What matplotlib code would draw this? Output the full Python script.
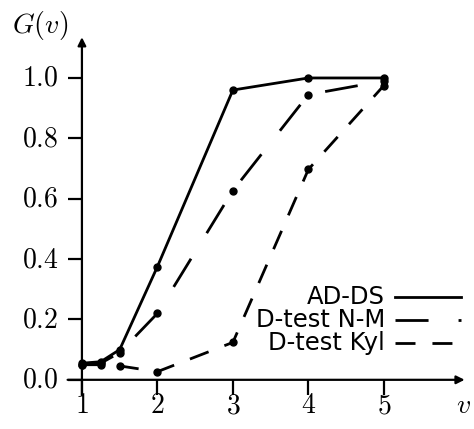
import matplotlib
matplotlib.use("Agg")
import matplotlib.pyplot as plt
from matplotlib.lines import Line2D

plt.rcParams['mathtext.fontset'] = 'cm'

# data
v = [1, 1.25, 1.5, 2, 3, 4, 5]
g_adds = [0.055, 0.06, 0.10, 0.375, 0.96, 1.0, 1.0]
g_nm = [0.05, 0.055, 0.09, 0.22, 0.627, 0.945, 0.99]
g_kyl = [0.05, 0.05, 0.046, 0.027, 0.124, 0.697, 0.975]

xticks = [1, 2, 3, 4, 5]
yticks = [0.0, 0.2, 0.4, 0.6, 0.8, 1.0]
names = ['AD-DS', 'D-test N-M', 'D-test Kyl']

lw = 2.0
styles = [dict(ls='-'),
          dict(dashes=(11.9, 10.8)),
          dict(dashes=(7.2, 6.1))]

fig = plt.figure(figsize=(4.74, 4.29), dpi=100)
ax = fig.add_axes([0.141, 0.0443, 0.844, 0.8795])
ax.set_xlim(0.8, 6.1)
ax.set_ylim(-0.1, 1.15)
ax.axis('off')

# axes with arrows
ax.annotate('', xy=(6.07, 0), xytext=(0.81, 0),
            arrowprops=dict(arrowstyle='-|>', lw=1.6, color='k', mutation_scale=12, shrinkA=0, shrinkB=0))
ax.annotate('', xy=(1, 1.135), xytext=(1, -0.05),
            arrowprops=dict(arrowstyle='-|>', lw=1.6, color='k', mutation_scale=12, shrinkA=0, shrinkB=0))

for t in xticks:
    ax.plot([t, t], [0, -0.05], color='k', lw=1.6, solid_capstyle='butt')
    ax.text(t, -0.085, r'$%d$' % t, ha='center', va='center', fontsize=20)
for t in yticks:
    ax.plot([0.81, 1], [t, t], color='k', lw=1.6, solid_capstyle='butt')
    ax.text(0.69, t, r'$%.1f$' % t, ha='right', va='center', fontsize=20)

ax.text(0.44, 1.175, r'$G(v)$', ha='center', va='center', fontsize=20, clip_on=False)
ax.text(6.05, -0.083, r'$v$', ha='center', va='center', fontsize=20, clip_on=False)

for ys, st in zip([g_adds, g_nm, g_kyl], styles):
    ax.plot(v, ys, color='k', lw=lw, marker='o', ms=5, **st)

# legend drawn by hand
leg_y = [0.2995, 0.2385, 0.1776]
for name, st, y in zip(names, styles, leg_y):
    ax.text(0.795, y, name, transform=ax.transAxes, ha='right', va='center',
            fontsize=17.5, family='DejaVu Sans')
    ax.add_line(Line2D([0.82, 0.985], [y, y], transform=ax.transAxes,
                       color='k', lw=lw, **st))

fig.savefig('out.png', dpi=100)
